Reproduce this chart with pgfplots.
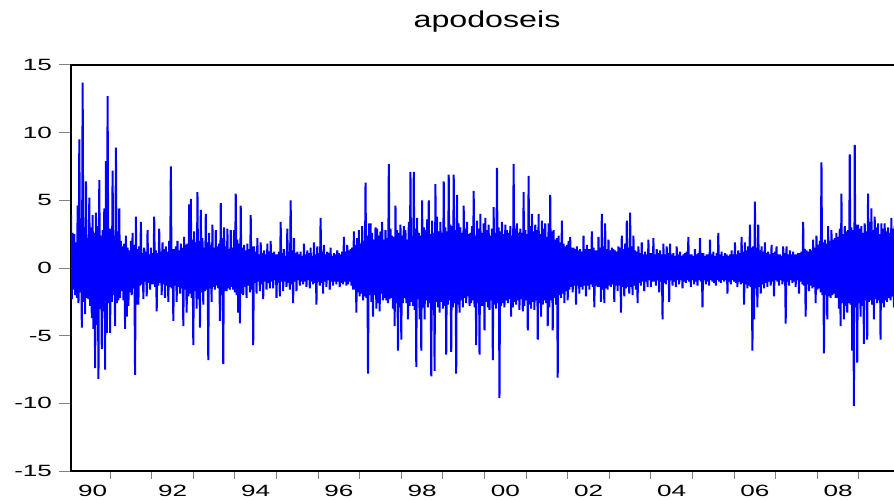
\documentclass[border=0pt]{standalone}
\usepackage{pgfplots}
\pgfplotsset{compat=1.18}
\usepackage{pgfplotstable}
\usepackage{fontspec}
\setmainfont{Liberation Sans}
\newfontfamily\tickfont[FakeStretch=1.6]{Liberation Sans}
\newfontfamily\titlefont[FakeStretch=1.4]{Liberation Sans}
\definecolor{evblue}{RGB}{0,0,255}

% daily returns: x is the sample position (25 units = 1 year, 0 = early 1990),
% each unit holds the day's high swing and the low swing next to it
\pgfplotstableread[row sep=\\]{
x y\\
0 3.9\\ 0.5 -2.3\\ 1 2.6\\ 1.5 -1.6\\ 2 2.5\\ 2.5 -2.0\\ 3 1.9\\ 3.5 -2.2\\ 4 4.6\\ 4.5 -2.6\\
5 9.5\\ 5.5 -1.8\\ 6 2.9\\ 6.5 -4.4\\ 7 13.7\\ 7.5 -2.5\\ 8 3.0\\ 8.5 -3.4\\ 9 6.4\\ 9.5 -2.2\\
10 2.2\\ 10.5 -2.3\\ 11 5.2\\ 11.5 -2.8\\ 12 3.0\\ 12.5 -3.7\\ 13 3.9\\ 13.5 -4.5\\ 14 2.6\\ 14.5 -7.4\\
15 4.1\\ 15.5 -4.2\\ 16 3.1\\ 16.5 -8.2\\ 17 6.5\\ 17.5 -3.0\\ 18 2.4\\ 18.5 -6.0\\ 19 2.8\\ 19.5 -3.2\\
20 4.4\\ 20.5 -7.5\\ 21 7.9\\ 21.5 -4.8\\ 22 12.7\\ 22.5 -2.6\\ 23 2.9\\ 23.5 -4.8\\ 24 2.9\\ 24.5 -2.5\\
25 7.2\\ 25.5 -2.0\\ 26 2.4\\ 26.5 -4.3\\ 27 8.9\\ 27.5 -2.6\\ 28 2.7\\ 28.5 -2.4\\ 29 4.4\\ 29.5 -2.2\\
30 2.0\\ 30.5 -1.7\\ 31 1.6\\ 31.5 -2.4\\ 32 1.8\\ 32.5 -4.5\\ 33 2.4\\ 33.5 -3.6\\ 34 1.5\\ 34.5 -2.8\\
35 1.3\\ 35.5 -1.8\\ 36 2.0\\ 36.5 -2.0\\ 37 2.6\\ 37.5 -1.5\\ 38 1.7\\ 38.5 -7.9\\ 39 3.8\\ 39.5 -2.7\\
40 1.4\\ 40.5 -2.7\\ 41 1.6\\ 41.5 -1.3\\ 42 3.4\\ 42.5 -1.2\\ 43 1.1\\ 43.5 -2.3\\ 44 1.5\\ 44.5 -1.0\\
45 1.2\\ 45.5 -2.1\\ 46 2.8\\ 46.5 -1.1\\ 47 1.0\\ 47.5 -1.6\\ 48 1.5\\ 48.5 -1.2\\ 49 1.1\\ 49.5 -1.2\\
50 3.8\\ 50.5 -1.4\\ 51 1.3\\ 51.5 -3.2\\ 52 1.1\\ 52.5 -1.3\\ 53 2.9\\ 53.5 -1.1\\ 54 1.2\\ 54.5 -2.0\\
55 1.9\\ 55.5 -1.2\\ 56 1.4\\ 56.5 -2.2\\ 57 1.6\\ 57.5 -1.3\\ 58 1.2\\ 58.5 -2.5\\ 59 2.0\\ 59.5 -1.4\\
60 7.5\\ 60.5 -1.5\\ 61 1.4\\ 61.5 -3.9\\ 62 1.4\\ 62.5 -1.3\\ 63 1.6\\ 63.5 -2.5\\ 64 2.0\\ 64.5 -1.4\\
65 1.3\\ 65.5 -1.9\\ 66 1.8\\ 66.5 -1.5\\ 67 1.5\\ 67.5 -4.3\\ 68 2.3\\ 68.5 -1.6\\ 69 1.7\\ 69.5 -3.3\\
70 1.8\\ 70.5 -2.1\\ 71 4.7\\ 71.5 -1.9\\ 72 5.1\\ 72.5 -2.2\\ 73 2.1\\ 73.5 -5.7\\ 74 2.7\\ 74.5 -1.7\\
75 1.9\\ 75.5 -3.0\\ 76 5.6\\ 76.5 -2.3\\ 77 2.0\\ 77.5 -4.4\\ 78 4.3\\ 78.5 -1.8\\ 79 2.2\\ 79.5 -2.7\\
80 1.5\\ 80.5 -1.7\\ 81 4.0\\ 81.5 -1.6\\ 82 1.9\\ 82.5 -6.8\\ 83 2.6\\ 83.5 -1.5\\ 84 1.7\\ 84.5 -2.5\\
85 3.2\\ 85.5 -1.4\\ 86 1.5\\ 86.5 -1.6\\ 87 2.8\\ 87.5 -1.3\\ 88 1.6\\ 88.5 -1.5\\ 89 1.8\\ 89.5 -3.9\\
90 4.8\\ 90.5 -2.0\\ 91 2.2\\ 91.5 -7.1\\ 92 3.0\\ 92.5 -1.7\\ 93 1.6\\ 93.5 -1.7\\ 94 2.9\\ 94.5 -1.5\\
95 1.4\\ 95.5 -1.6\\ 96 2.8\\ 96.5 -1.4\\ 97 1.5\\ 97.5 -1.6\\ 98 2.8\\ 98.5 -1.8\\ 99 5.5\\ 99.5 -2.0\\
100 2.1\\ 100.5 -3.3\\ 101 1.8\\ 101.5 -4.1\\ 102 4.6\\ 102.5 -1.9\\ 103 1.5\\ 103.5 -2.0\\ 104 1.7\\ 104.5 -1.4\\
105 1.3\\ 105.5 -2.2\\ 106 1.8\\ 106.5 -1.3\\ 107 1.4\\ 107.5 -1.8\\ 108 3.9\\ 108.5 -1.6\\ 109 1.6\\ 109.5 -5.7\\
110 1.6\\ 110.5 -1.1\\ 111 1.2\\ 111.5 -1.9\\ 112 2.2\\ 112.5 -1.0\\ 113 1.0\\ 113.5 -1.7\\ 114 1.9\\ 114.5 -1.2\\
115 1.1\\ 115.5 -2.3\\ 116 1.3\\ 116.5 -1.0\\ 117 1.0\\ 117.5 -1.6\\ 118 1.8\\ 118.5 -1.1\\ 119 1.2\\ 119.5 -1.5\\
120 2.0\\ 120.5 -1.0\\ 121 1.1\\ 121.5 -1.5\\ 122 1.2\\ 122.5 -0.9\\ 123 1.0\\ 123.5 -2.2\\ 124 1.0\\ 124.5 -1.1\\
125 1.2\\ 125.5 -2.1\\ 126 3.4\\ 126.5 -1.0\\ 127 1.1\\ 127.5 -1.7\\ 128 1.4\\ 128.5 -1.0\\ 129 0.9\\ 129.5 -1.4\\
130 2.9\\ 130.5 -1.1\\ 131 1.2\\ 131.5 -1.6\\ 132 5.0\\ 132.5 -1.2\\ 133 1.3\\ 133.5 -2.6\\ 134 2.2\\ 134.5 -1.0\\
135 1.1\\ 135.5 -1.7\\ 136 1.2\\ 136.5 -0.9\\ 137 1.0\\ 137.5 -1.3\\ 138 1.2\\ 138.5 -1.0\\ 139 0.9\\ 139.5 -1.2\\
140 1.8\\ 140.5 -1.0\\ 141 1.0\\ 141.5 -1.4\\ 142 1.3\\ 142.5 -0.9\\ 143 1.1\\ 143.5 -1.5\\ 144 1.5\\ 144.5 -1.0\\
145 0.9\\ 145.5 -1.2\\ 146 1.9\\ 146.5 -1.1\\ 147 1.0\\ 147.5 -2.7\\ 148 1.6\\ 148.5 -1.0\\ 149 1.1\\ 149.5 -1.3\\
150 3.7\\ 150.5 -1.1\\ 151 1.2\\ 151.5 -1.9\\ 152 1.7\\ 152.5 -1.0\\ 153 1.0\\ 153.5 -1.4\\ 154 1.2\\ 154.5 -0.9\\
155 1.1\\ 155.5 -1.6\\ 156 1.5\\ 156.5 -1.0\\ 157 0.9\\ 157.5 -1.3\\ 158 1.1\\ 158.5 -1.0\\ 159 1.0\\ 159.5 -1.2\\
160 1.3\\ 160.5 -1.0\\ 161 1.1\\ 161.5 -1.4\\ 162 1.0\\ 162.5 -1.1\\ 163 1.2\\ 163.5 -1.2\\ 164 2.3\\ 164.5 -1.0\\
165 1.2\\ 165.5 -1.3\\ 166 1.7\\ 166.5 -1.2\\ 167 1.3\\ 167.5 -1.0\\ 168 1.4\\ 168.5 -1.3\\ 169 1.5\\ 169.5 -1.6\\
170 2.7\\ 170.5 -1.6\\ 171 1.7\\ 171.5 -3.3\\ 172 2.2\\ 172.5 -1.8\\ 173 2.8\\ 173.5 -2.1\\ 174 1.8\\ 174.5 -1.9\\
175 3.1\\ 175.5 -2.4\\ 176 2.0\\ 176.5 -2.1\\ 177 6.3\\ 177.5 -2.2\\ 178 2.4\\ 178.5 -7.8\\ 179 3.3\\ 179.5 -2.0\\
180 3.3\\ 180.5 -2.5\\ 181 2.6\\ 181.5 -3.6\\ 182 2.1\\ 182.5 -2.0\\ 183 3.0\\ 183.5 -3.0\\ 184 2.9\\ 184.5 -2.6\\
185 2.4\\ 185.5 -3.2\\ 186 2.7\\ 186.5 -1.9\\ 187 3.4\\ 187.5 -2.4\\ 188 2.1\\ 188.5 -2.2\\ 189 2.8\\ 189.5 -2.4\\
190 2.2\\ 190.5 -2.6\\ 191 7.7\\ 191.5 -2.3\\ 192 2.9\\ 192.5 -2.2\\ 193 2.4\\ 193.5 -3.0\\ 194 2.3\\ 194.5 -4.3\\
195 4.6\\ 195.5 -2.6\\ 196 2.8\\ 196.5 -6.1\\ 197 2.6\\ 197.5 -2.9\\ 198 3.2\\ 198.5 -5.3\\ 199 2.4\\ 199.5 -2.6\\
200 3.1\\ 200.5 -2.2\\ 201 2.8\\ 201.5 -2.6\\ 202 2.1\\ 202.5 -3.8\\ 203 3.4\\ 203.5 -2.8\\ 204 7.1\\ 204.5 -2.5\\
205 2.4\\ 205.5 -2.8\\ 206 7.1\\ 206.5 -3.1\\ 207 2.9\\ 207.5 -7.3\\ 208 3.7\\ 208.5 -2.3\\ 209 2.6\\ 209.5 -3.8\\
210 2.4\\ 210.5 -6.1\\ 211 5.0\\ 211.5 -2.9\\ 212 3.0\\ 212.5 -3.8\\ 213 2.8\\ 213.5 -2.4\\ 214 3.6\\ 214.5 -2.9\\
215 5.0\\ 215.5 -2.6\\ 216 2.5\\ 216.5 -8.0\\ 217 3.5\\ 217.5 -3.1\\ 218 2.6\\ 218.5 -7.6\\ 219 6.2\\ 219.5 -2.5\\
220 3.8\\ 220.5 -2.9\\ 221 2.7\\ 221.5 -3.3\\ 222 3.4\\ 222.5 -2.5\\ 223 2.6\\ 223.5 -3.0\\ 224 6.4\\ 224.5 -2.8\\
225 3.0\\ 225.5 -6.4\\ 226 2.7\\ 226.5 -2.7\\ 227 6.9\\ 227.5 -2.4\\ 228 3.2\\ 228.5 -6.2\\ 229 3.1\\ 229.5 -2.9\\
230 6.9\\ 230.5 -2.6\\ 231 2.8\\ 231.5 -7.8\\ 232 5.4\\ 232.5 -2.7\\ 233 3.3\\ 233.5 -3.3\\ 234 3.0\\ 234.5 -2.4\\
235 2.6\\ 235.5 -2.9\\ 236 4.6\\ 236.5 -2.2\\ 237 2.9\\ 237.5 -2.6\\ 238 3.4\\ 238.5 -2.1\\ 239 2.5\\ 239.5 -2.8\\
240 2.6\\ 240.5 -2.6\\ 241 3.1\\ 241.5 -2.4\\ 242 5.7\\ 242.5 -2.9\\ 243 2.4\\ 243.5 -5.7\\ 244 3.5\\ 244.5 -2.6\\
245 2.9\\ 245.5 -6.4\\ 246 4.0\\ 246.5 -2.8\\ 247 2.6\\ 247.5 -2.8\\ 248 3.3\\ 248.5 -4.6\\ 249 3.7\\ 249.5 -2.5\\
250 2.8\\ 250.5 -2.9\\ 251 3.2\\ 251.5 -3.1\\ 252 2.4\\ 252.5 -2.4\\ 253 2.9\\ 253.5 -6.8\\ 254 4.5\\ 254.5 -2.7\\
255 2.6\\ 255.5 -3.0\\ 256 7.4\\ 256.5 -2.6\\ 257 3.0\\ 257.5 -9.6\\ 258 2.7\\ 258.5 -2.8\\ 259 3.4\\ 259.5 -2.6\\
260 2.5\\ 260.5 -2.9\\ 261 3.2\\ 261.5 -2.4\\ 262 2.8\\ 262.5 -2.6\\ 263 2.6\\ 263.5 -2.3\\ 264 3.1\\ 264.5 -3.6\\
265 2.4\\ 265.5 -2.9\\ 266 7.7\\ 266.5 -2.5\\ 267 2.9\\ 267.5 -2.7\\ 268 3.3\\ 268.5 -2.4\\ 269 2.6\\ 269.5 -3.1\\
270 2.9\\ 270.5 -2.3\\ 271 2.6\\ 271.5 -3.2\\ 272 5.6\\ 272.5 -2.8\\ 273 2.8\\ 273.5 -2.4\\ 274 2.5\\ 274.5 -4.6\\
275 6.8\\ 275.5 -2.7\\ 276 3.1\\ 276.5 -3.0\\ 277 4.0\\ 277.5 -2.5\\ 278 2.7\\ 278.5 -3.1\\ 279 3.2\\ 279.5 -2.4\\
280 2.8\\ 280.5 -5.3\\ 281 4.0\\ 281.5 -2.6\\ 282 2.5\\ 282.5 -3.6\\ 283 3.5\\ 283.5 -2.7\\ 284 2.9\\ 284.5 -2.4\\
285 3.3\\ 285.5 -2.6\\ 286 2.3\\ 286.5 -4.3\\ 287 3.3\\ 287.5 -2.9\\ 288 5.4\\ 288.5 -2.4\\ 289 2.7\\ 289.5 -4.6\\
290 2.8\\ 290.5 -2.2\\ 291 2.1\\ 291.5 -2.7\\ 292 2.2\\ 292.5 -8.1\\ 293 2.4\\ 293.5 -2.0\\ 294 1.9\\ 294.5 -2.2\\
295 3.5\\ 295.5 -1.9\\ 296 1.8\\ 296.5 -2.6\\ 297 1.6\\ 297.5 -1.7\\ 298 1.7\\ 298.5 -2.4\\ 299 2.0\\ 299.5 -1.6\\
300 2.3\\ 300.5 -1.4\\ 301 1.5\\ 301.5 -1.8\\ 302 1.5\\ 302.5 -1.3\\ 303 1.4\\ 303.5 -2.7\\ 304 1.6\\ 304.5 -1.3\\
305 1.3\\ 305.5 -1.9\\ 306 1.4\\ 306.5 -1.4\\ 307 1.2\\ 307.5 -1.6\\ 308 2.4\\ 308.5 -1.3\\ 309 1.4\\ 309.5 -2.1\\
310 1.7\\ 310.5 -1.3\\ 311 1.4\\ 311.5 -1.6\\ 312 1.4\\ 312.5 -1.2\\ 313 2.7\\ 313.5 -1.4\\ 314 1.5\\ 314.5 -2.9\\
315 1.3\\ 315.5 -1.3\\ 316 1.3\\ 316.5 -1.4\\ 317 2.3\\ 317.5 -1.4\\ 318 1.5\\ 318.5 -2.5\\ 319 4.0\\ 319.5 -1.6\\
320 1.6\\ 320.5 -2.6\\ 321 3.3\\ 321.5 -1.5\\ 322 1.4\\ 322.5 -1.6\\ 323 2.1\\ 323.5 -1.3\\ 324 1.3\\ 324.5 -1.4\\
325 1.5\\ 325.5 -1.2\\ 326 1.4\\ 326.5 -2.5\\ 327 1.3\\ 327.5 -1.3\\ 328 1.2\\ 328.5 -1.7\\ 329 1.6\\ 329.5 -1.3\\
330 1.5\\ 330.5 -3.3\\ 331 2.4\\ 331.5 -1.4\\ 332 1.4\\ 332.5 -2.1\\ 333 1.8\\ 333.5 -1.5\\ 334 3.5\\ 334.5 -1.4\\
335 1.5\\ 335.5 -1.9\\ 336 4.1\\ 336.5 -1.4\\ 337 1.6\\ 337.5 -2.0\\ 338 2.4\\ 338.5 -1.3\\ 339 1.3\\ 339.5 -1.6\\
340 1.2\\ 340.5 -2.6\\ 341 1.6\\ 341.5 -1.1\\ 342 1.1\\ 342.5 -1.3\\ 343 1.9\\ 343.5 -1.0\\ 344 1.0\\ 344.5 -1.7\\
345 1.2\\ 345.5 -1.0\\ 346 1.0\\ 346.5 -1.4\\ 347 2.1\\ 347.5 -0.9\\ 348 1.1\\ 348.5 -1.4\\ 349 1.1\\ 349.5 -1.0\\
350 2.2\\ 350.5 -1.0\\ 351 1.0\\ 351.5 -1.3\\ 352 1.4\\ 352.5 -0.9\\ 353 1.1\\ 353.5 -1.8\\ 354 1.3\\ 354.5 -1.0\\
355 1.0\\ 355.5 -3.8\\ 356 1.8\\ 356.5 -1.1\\ 357 1.0\\ 357.5 -1.2\\ 358 1.6\\ 358.5 -0.9\\ 359 1.1\\ 359.5 -2.5\\
360 1.8\\ 360.5 -0.9\\ 361 1.0\\ 361.5 -1.3\\ 362 1.1\\ 362.5 -1.0\\ 363 0.9\\ 363.5 -1.4\\ 364 1.6\\ 364.5 -0.9\\
365 1.0\\ 365.5 -1.2\\ 366 1.2\\ 366.5 -0.9\\ 367 0.9\\ 367.5 -1.5\\ 368 1.0\\ 368.5 -1.0\\ 369 1.1\\ 369.5 -1.1\\
370 1.2\\ 370.5 -0.9\\ 371 2.3\\ 371.5 -1.0\\ 372 1.0\\ 372.5 -1.4\\ 373 1.0\\ 373.5 -0.9\\ 374 0.9\\ 374.5 -1.2\\
375 1.4\\ 375.5 -1.0\\ 376 1.0\\ 376.5 -1.3\\ 377 1.1\\ 377.5 -0.9\\ 378 2.2\\ 378.5 -1.0\\ 379 1.1\\ 379.5 -2.9\\
380 1.1\\ 380.5 -0.9\\ 381 0.9\\ 381.5 -1.2\\ 382 1.0\\ 382.5 -1.0\\ 383 1.0\\ 383.5 -1.3\\ 384 2.1\\ 384.5 -0.9\\
385 1.0\\ 385.5 -1.0\\ 386 1.2\\ 386.5 -1.1\\ 387 0.9\\ 387.5 -1.3\\ 388 1.1\\ 388.5 -0.9\\ 389 2.6\\ 389.5 -1.0\\
390 1.0\\ 390.5 -1.1\\ 391 1.2\\ 391.5 -0.9\\ 392 0.9\\ 392.5 -1.0\\ 393 1.1\\ 393.5 -0.9\\ 394 1.0\\ 394.5 -1.9\\
395 0.9\\ 395.5 -1.0\\ 396 1.0\\ 396.5 -1.2\\ 397 1.3\\ 397.5 -0.9\\ 398 1.0\\ 398.5 -1.0\\ 399 1.9\\ 399.5 -1.1\\
400 1.0\\ 400.5 -1.4\\ 401 1.3\\ 401.5 -1.0\\ 402 1.1\\ 402.5 -1.2\\ 403 2.3\\ 403.5 -1.1\\ 404 1.2\\ 404.5 -2.7\\
405 1.9\\ 405.5 -1.2\\ 406 1.3\\ 406.5 -1.5\\ 407 1.6\\ 407.5 -1.3\\ 408 3.2\\ 408.5 -1.4\\ 409 1.5\\ 409.5 -6.1\\
410 1.6\\ 410.5 -3.8\\ 411 4.9\\ 411.5 -1.5\\ 412 1.5\\ 412.5 -2.9\\ 413 3.2\\ 413.5 -1.4\\ 414 1.3\\ 414.5 -1.9\\
415 1.6\\ 415.5 -1.2\\ 416 1.2\\ 416.5 -1.5\\ 417 1.9\\ 417.5 -1.1\\ 418 1.1\\ 418.5 -1.4\\ 419 1.2\\ 419.5 -1.0\\
420 1.0\\ 420.5 -1.3\\ 421 1.7\\ 421.5 -1.0\\ 422 1.1\\ 422.5 -2.1\\ 423 1.2\\ 423.5 -0.9\\ 424 1.6\\ 424.5 -1.0\\
425 1.0\\ 425.5 -1.3\\ 426 1.0\\ 426.5 -0.9\\ 427 0.9\\ 427.5 -1.2\\ 428 1.6\\ 428.5 -1.0\\ 429 1.1\\ 429.5 -4.1\\
430 1.6\\ 430.5 -1.0\\ 431 1.0\\ 431.5 -1.3\\ 432 1.3\\ 432.5 -0.9\\ 433 1.0\\ 433.5 -1.1\\ 434 1.2\\ 434.5 -1.0\\
435 1.0\\ 435.5 -1.4\\ 436 1.0\\ 436.5 -0.9\\ 437 1.1\\ 437.5 -1.9\\ 438 1.1\\ 438.5 -1.0\\ 439 1.2\\ 439.5 -1.2\\
440 3.4\\ 440.5 -1.3\\ 441 1.4\\ 441.5 -3.6\\ 442 1.3\\ 442.5 -1.2\\ 443 1.2\\ 443.5 -1.7\\ 444 1.4\\ 444.5 -1.3\\
445 1.3\\ 445.5 -1.5\\ 446 2.1\\ 446.5 -1.4\\ 447 1.5\\ 447.5 -2.6\\ 448 2.4\\ 448.5 -1.6\\ 449 1.7\\ 449.5 -1.5\\
450 2.0\\ 450.5 -1.8\\ 451 7.8\\ 451.5 -2.0\\ 452 1.9\\ 452.5 -6.3\\ 453 2.1\\ 453.5 -2.0\\ 454 1.8\\ 454.5 -3.8\\
455 3.1\\ 455.5 -2.1\\ 456 2.0\\ 456.5 -2.2\\ 457 2.8\\ 457.5 -2.0\\ 458 2.1\\ 458.5 -1.9\\ 459 2.2\\ 459.5 -2.2\\
460 2.6\\ 460.5 -2.2\\ 461 2.3\\ 461.5 -3.0\\ 462 2.9\\ 462.5 -4.3\\ 463 5.5\\ 463.5 -2.6\\ 464 2.5\\ 464.5 -3.8\\
465 3.1\\ 465.5 -2.8\\ 466 2.7\\ 466.5 -3.3\\ 467 2.8\\ 467.5 -2.6\\ 468 8.4\\ 468.5 -2.7\\ 469 3.0\\ 469.5 -6.1\\
470 2.8\\ 470.5 -10.2\\ 471 9.1\\ 471.5 -2.9\\ 472 3.2\\ 472.5 -7.0\\ 473 3.2\\ 473.5 -2.6\\ 474 2.9\\ 474.5 -3.6\\
475 3.1\\ 475.5 -2.8\\ 476 2.6\\ 476.5 -5.6\\ 477 3.3\\ 477.5 -2.4\\ 478 2.7\\ 478.5 -5.3\\ 479 5.5\\ 479.5 -2.5\\
480 3.4\\ 480.5 -2.4\\ 481 4.4\\ 481.5 -2.7\\ 482 2.8\\ 482.5 -3.8\\ 483 3.8\\ 483.5 -2.3\\ 484 3.0\\ 484.5 -2.6\\
485 3.3\\ 485.5 -2.4\\ 486 2.5\\ 486.5 -5.3\\ 487 3.3\\ 487.5 -2.6\\ 488 2.9\\ 488.5 -2.9\\ 489 3.3\\ 489.5 -2.4\\
490 2.7\\ 490.5 -2.5\\ 491 3.0\\ 491.5 -2.2\\ 492 2.6\\ 492.5 -2.4\\ 493 3.7\\ 493.5 -2.1\\ 494 2.9\\ 494.5 -2.9\\
495 3.1\\ 495.5 -2.3\\ 496 2.6\\ 496.5 -2.5\\ 497 2.5\\ 497.5 -2.0\\ 498 3.2\\ 498.5 -2.0\\ 499 2.8\\ 499.5 -2.1\\
}\returns

\begin{document}
\begin{tikzpicture}[x=1pt,y=1pt]
\useasboundingbox (0,0) rectangle (894,499);
\node[anchor=base, font=\titlefont\fontsize{23}{26}\selectfont] at (487,471) {apodoseis};
\begin{axis}[
    at={(71pt,28pt)}, anchor=south west,
    width=832pt, height=406pt, scale only axis,
    xmin=0, xmax=500, ymin=-15, ymax=15,
    axis line style={line width=1.2pt},
    tick pos=left, tick align=outside,
    major tick length=12pt, minor tick length=8pt,
    tick style={line width=1pt},
    ytick={-15,-10,-5,0,5,10,15},
    yticklabels={-15,-10,-5,0,5,10,15},
    xtick={13,61,111,161,211,261,311,361,411,461},
    xticklabels={90,92,94,96,98,00,02,04,06,08},
    minor xtick={23.5,48.5,...,498.5},
    every major x tick/.append style={draw=none},
    tick label style={font=\tickfont\fontsize{16.3}{18}\selectfont},
    yticklabel style={xshift=-3.5pt},
    xticklabel style={yshift=1pt},
]
\addplot[evblue, line width=2pt, line join=bevel] table[x=x, y=y] {\returns};
\end{axis}
\end{tikzpicture}
\end{document}
